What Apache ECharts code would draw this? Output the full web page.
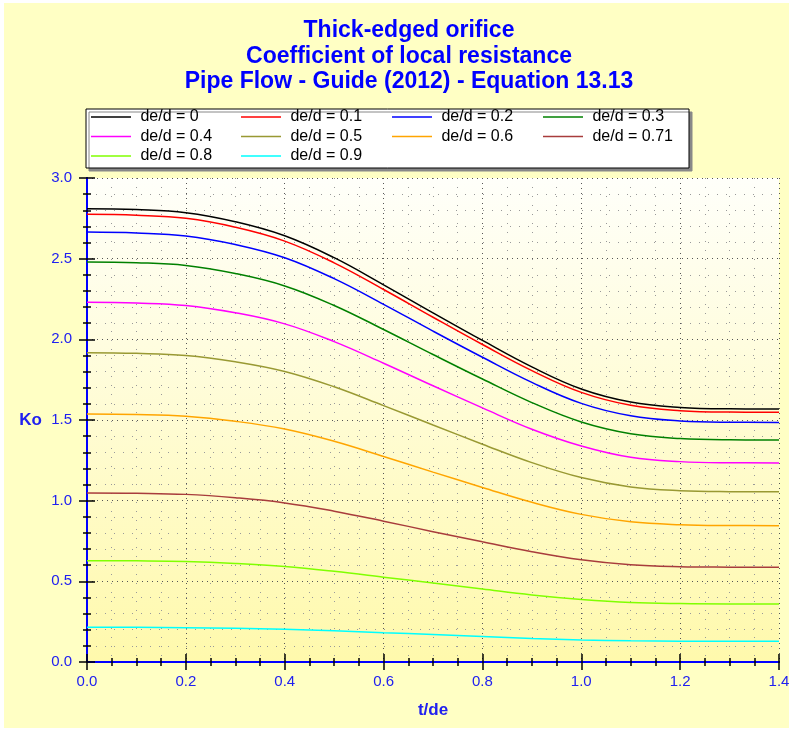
<!DOCTYPE html>
<html>
<head>
<meta charset="utf-8">
<script src="https://cdn.jsdelivr.net/npm/echarts@6/dist/echarts.min.js"></script>
<style>
  html, body { margin: 0; padding: 0; background: #ffffff; }
  #main { width: 793px; height: 731px; }
</style>
</head>
<body>
<div id="main"></div>
<script>
// t/de values along the x axis
var tde = [0, 0.1, 0.2, 0.3, 0.4, 0.5, 0.6, 0.7, 0.8, 0.9, 1.0, 1.1, 1.2, 1.3, 1.4];

// Ko, one array per de/d
var k000 = [2.810, 2.804, 2.785, 2.729, 2.642, 2.506, 2.338, 2.164, 1.993, 1.829, 1.692, 1.611, 1.578, 1.569, 1.568];
var k010 = [2.775, 2.769, 2.750, 2.695, 2.609, 2.474, 2.309, 2.137, 1.968, 1.806, 1.671, 1.591, 1.558, 1.549, 1.548];
var k020 = [2.665, 2.659, 2.641, 2.588, 2.506, 2.376, 2.217, 2.051, 1.889, 1.733, 1.603, 1.526, 1.494, 1.486, 1.485];
var k030 = [2.480, 2.475, 2.458, 2.408, 2.331, 2.210, 2.061, 1.906, 1.754, 1.608, 1.488, 1.415, 1.385, 1.377, 1.376];
var k040 = [2.230, 2.225, 2.210, 2.165, 2.096, 1.986, 1.852, 1.712, 1.575, 1.443, 1.339, 1.269, 1.242, 1.235, 1.234];
var k050 = [1.917, 1.913, 1.900, 1.861, 1.801, 1.706, 1.589, 1.469, 1.350, 1.236, 1.143, 1.085, 1.062, 1.056, 1.055];
var k060 = [1.537, 1.534, 1.523, 1.492, 1.444, 1.368, 1.274, 1.177, 1.082, 0.990, 0.915, 0.869, 0.851, 0.846, 0.845];
var k071 = [1.048, 1.046, 1.039, 1.018, 0.986, 0.935, 0.873, 0.808, 0.745, 0.684, 0.634, 0.603, 0.591, 0.588, 0.587];
var k080 = [0.628, 0.627, 0.623, 0.611, 0.592, 0.562, 0.526, 0.489, 0.452, 0.416, 0.388, 0.369, 0.362, 0.360, 0.360];
var k090 = [0.215, 0.215, 0.213, 0.209, 0.203, 0.194, 0.182, 0.170, 0.158, 0.146, 0.137, 0.131, 0.129, 0.128, 0.128];

var names = ['de/d = 0', 'de/d = 0.1', 'de/d = 0.2', 'de/d = 0.3', 'de/d = 0.4',
             'de/d = 0.5', 'de/d = 0.6', 'de/d = 0.71', 'de/d = 0.8', 'de/d = 0.9'];
var values = [k000, k010, k020, k030, k040, k050, k060, k071, k080, k090];
var colors = ['#000000', '#ff0000', '#0000ff', '#008000', '#ff00ff',
              '#999933', '#ffa500', '#a83c3c', '#80ff00', '#00ffff'];

var font = "'Liberation Sans', Arial, sans-serif";
var blue = '#2020f0';

var myChart = echarts.init(document.getElementById('main'));

// series
var series = [];
for (var i = 0; i < names.length; i++) {
  var pts = [];
  for (var j = 0; j < tde.length; j++) pts.push([tde[j], values[i][j]]);
  series.push({
    name: names[i],
    type: 'line',
    data: pts,
    smooth: 0.4,
    symbol: 'none',
    color: colors[i],
    lineStyle: { width: 1.5, color: colors[i] },
    xAxisIndex: 0,
    yAxisIndex: 0
  });
}

// one legend per item so the columns line up like the original
var colX = [91, 241, 392, 543];
var rowY = [118, 137.5, 157];
var legends = [];
for (var i = 0; i < names.length; i++) {
  legends.push({
    data: [names[i]],
    left: colX[i % 4],
    top: rowY[Math.floor(i / 4)] - 9,
    padding: 0,
    icon: 'rect',
    itemWidth: 40,
    itemHeight: 1.5,
    formatter: ' {name}',
    textStyle: { color: '#000', fontSize: 16, fontFamily: font }
  });
}

var gridLine = { show: true, lineStyle: { color: '#555', type: [1, 4], width: 1 } };
var minorGridLine = { show: true, lineStyle: { color: '#999', type: [1, 8], width: 1 } };

function xAx(opt) {
  return Object.assign({
    type: 'value', min: 0, max: 1.4, interval: 0.2,
    gridIndex: 0,
    axisLine: { show: true, lineStyle: { color: '#0000ff', width: 2 } },
    axisTick: { show: true, length: 8, lineStyle: { color: '#000', width: 1.5 } },
    minorTick: { show: true, splitNumber: 4, length: 4, lineStyle: { color: '#000', width: 1.5 } },
    axisLabel: { show: false },
    splitLine: { show: false },
    minorSplitLine: { show: false }
  }, opt);
}
function yAx(opt) {
  return Object.assign({
    type: 'value', min: 0, max: 3, interval: 0.5,
    gridIndex: 0,
    axisLine: { show: true, lineStyle: { color: '#0000ff', width: 2 } },
    axisTick: { show: true, length: 8, lineStyle: { color: '#000', width: 1.5 } },
    minorTick: { show: true, splitNumber: 5, length: 4, lineStyle: { color: '#000', width: 1.5 } },
    axisLabel: { show: false },
    splitLine: { show: false },
    minorSplitLine: { show: false }
  }, opt);
}

var option = {
  backgroundColor: '#ffffff',
  animation: false,
  graphic: [
    { type: 'rect', z: -10, shape: { x: 4, y: 3, width: 785, height: 725 },
      style: { fill: '#ffffc4' } },
    { type: 'rect', z: 0, shape: { x: 86, y: 109, width: 603, height: 59 },
      style: { fill: '#ffffff', stroke: '#000', lineWidth: 1,
               shadowColor: '#888', shadowOffsetX: 3, shadowOffsetY: 3, shadowBlur: 0 } }
  ],
  title: {
    text: 'Thick-edged orifice\nCoefficient of local resistance\nPipe Flow - Guide (2012) - Equation 13.13',
    left: 404, top: 13, textAlign: 'center',
    textStyle: { color: '#0000ff', fontSize: 23, fontWeight: 'bold', fontFamily: font, lineHeight: 25.5 }
  },
  legend: legends,
  grid: {
    left: 87, right: 14, top: 178, bottom: 69,
    show: true, borderWidth: 0,
    backgroundColor: new echarts.graphic.LinearGradient(0, 0, 0, 1, [
      { offset: 0, color: '#fffffa' },
      { offset: 1, color: '#fff9ac' }
    ])
  },
  xAxis: [
    xAx({
      position: 'bottom',
      name: 't/de', nameLocation: 'middle', nameGap: 40,
      nameTextStyle: { color: blue, fontSize: 17, fontWeight: 'bold', fontFamily: font },
      axisTick: { show: true, length: 8, inside: false, lineStyle: { color: '#000', width: 1.5 } },
      minorTick: { show: true, splitNumber: 4, length: 4, lineStyle: { color: '#000', width: 1.5 } },
      axisLabel: { show: true, color: blue, fontSize: 15, fontFamily: font, margin: 12,
                   formatter: function (v) { return v.toFixed(1); } },
      splitLine: gridLine,
      minorSplitLine: minorGridLine
    }),
    xAx({ position: 'bottom', axisTick: { show: true, inside: true, length: 8, lineStyle: { color: '#000', width: 1.5 } },
          minorTick: { show: true, splitNumber: 4, length: 4, lineStyle: { color: '#000', width: 1.5 } } }),
    xAx({ position: 'top', axisTick: { show: true, inside: true, length: 8, lineStyle: { color: '#000', width: 1.5 } },
          minorTick: { show: true, splitNumber: 4, length: 4, lineStyle: { color: '#000', width: 1.5 } } })
  ],
  yAxis: [
    yAx({
      position: 'left',
      name: 'Ko', nameLocation: 'middle', nameGap: 45, nameRotate: 0,
      nameTextStyle: { color: blue, fontSize: 17, fontWeight: 'bold', fontFamily: font },
      axisLabel: { show: true, color: blue, fontSize: 15, fontFamily: font, margin: 15,
                   formatter: function (v) { return v.toFixed(1); } },
      splitLine: gridLine,
      minorSplitLine: minorGridLine
    }),
    yAx({ position: 'left', axisTick: { show: true, inside: true, length: 8, lineStyle: { color: '#000', width: 1.5 } },
          minorTick: { show: true, splitNumber: 5, length: 4, lineStyle: { color: '#000', width: 1.5 } } }),
    yAx({ position: 'right', axisTick: { show: true, inside: true, length: 8, lineStyle: { color: '#000', width: 1.5 } },
          minorTick: { show: true, splitNumber: 5, length: 4, lineStyle: { color: '#000', width: 1.5 } } })
  ],
  series: series
};

myChart.setOption(option);
</script>
</body>
</html>
